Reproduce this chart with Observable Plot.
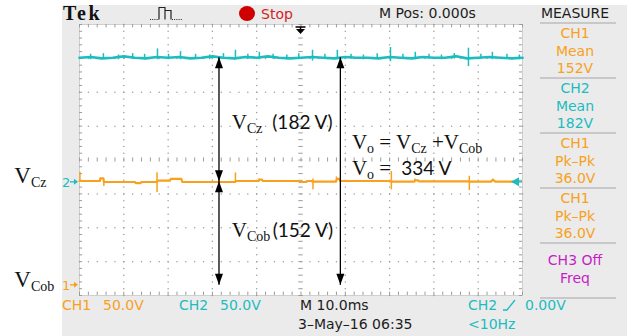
<!DOCTYPE html>
<html>
<head>
<meta charset="utf-8">
<script src="https://cdn.jsdelivr.net/npm/d3@7"></script>
<script src="https://cdn.jsdelivr.net/npm/@observablehq/plot@0.6"></script>
<style>
  html,body{margin:0;padding:0;background:#fff;}
  #wrap{position:relative;width:634px;height:336px;overflow:hidden;font-family:"DejaVu Sans",sans-serif;}
  #panel{position:absolute;left:62px;top:5px;width:565px;height:331px;background:#ebebeb;}
  .lbl{position:absolute;white-space:nowrap;font-size:14px;line-height:14px;color:#1c1c1c;}
  .sep{position:absolute;left:540px;width:76px;height:2px;background:#c8c8c8;}
</style>
</head>
<body>
<div id="wrap"><div id="panel"></div></div>
<script>
// ---------------- data ----------------
const timeDomain = [-50, 50];        // ms : M 10.0ms / div, M Pos 0.000s
const divDomain = [-4, 4];           // graticule divisions
const voltsPerDiv = 50;              // CH1 50.0V, CH2 50.0V
const ch1Position = -3.70;           // ground marker "1" (div)
const ch2Position = -0.66;           // ground marker "2" (div)

// CH2 (cyan, V_Cz) samples every 2.5 ms, volts
const ch2Times = d3.range(-50, 50.01, 2.5);
const ch2Volts = [184,185,183,184,186,184,183,185,184,185,
                  183,184,186,184,183,185,184,186,184,183,
                  184,185,184,183,185,184,184,183,185,184,
                  183,185,184,184,186,183,184,185,184,183,184];
// CH2 glitches: [time ms, low V, high V]
const ch2Spikes = [[-47.5,181,189],[-44.6,182,190],[-41.2,181,188],[-38.0,182,190],[-35.3,181,189],
  [-32.4,181,197],[-29.9,182,189],[-27.2,181,193],[-23.8,182,189],[-20.6,181,188],[-17.5,182,190],
  [-14.8,181,195],[-12.0,182,189],[-9.4,181,192],[-6.3,182,189],[-3.2,181,188],[-0.5,182,190],
  [2.6,179,195],[5.4,182,189],[8.2,181,195],[11.3,182,189],[14.1,181,188],[17.2,182,190],
  [20.2,178,199],[23.0,182,189],[25.8,181,192],[28.9,182,189],[31.7,181,188],[34.6,182,190],
  [37.8,171,198],[40.6,182,189],[43.2,181,192],[46.5,182,189],[49.3,181,188]];

// CH1 (orange, V_Cob) trace: [time ms, volts]
const ch1Path = [[-50,154],[-45.4,154],[-45.3,158],[-44.6,158],[-44.5,152.5],[-37.5,152.5],[-37.3,151],
  [-36.2,151],[-36.0,152.5],[-32.6,152.5],[-32.4,154.5],[-29.6,154.5],[-29.4,157],[-27.0,157],
  [-26.8,152.5],[-14.9,152.5],[-14.7,154],[-9.6,154],[-9.4,156],[-8.8,156],[-8.6,154],[-0.5,154],
  [-0.3,152.5],[1.2,152.5],[1.4,154],[2.4,154],[2.6,153],[7.9,153],[8.1,157],[8.7,157],[8.9,154],
  [20.0,154],[20.2,153],[25.6,153],[25.8,155],[26.4,155],[26.6,153.5],[37.7,153.5],[37.9,153],
  [42.9,153],[43.1,155],[43.6,155],[43.8,153],[48,153]];
// CH1 glitches: [time ms, low V, high V]
const ch1Spikes = [[-49.9,153,167],[-44.5,146,154],[-32.5,137,166],[-14.8,153,166],[-9.5,153,157],
  [2.7,141,157],[8.0,153,160],[20.4,141,168],[25.7,153,157],[38.0,140,161],[43.3,153,157]];

// annotation levels (volts)
const vCzLevel = 184, vCobLevel = 153, groundLevel = 0;
const arrowTimes = [-18.4, 9.0];

// annotation texts: [kind, text]  kind: "V" serif, "sub" serif subscript, "n" sans
const annotations = [
  {t: -15.5, y: 0.90,  parts: [["V","V"],["sub","Cz"],["n","  (182 V)"]]},
  {t: 11.6,  y: 0.30,  parts: [["V","V"],["sub","o"],["V"," = V"],["sub","Cz"],["V"," +V"],["sub","Cob"]]},
  {t: 11.6,  y: -0.45, parts: [["V","V"],["sub","o"],["V"," = "],["n"," 334 V"]]},
  {t: -15.5, y: -2.29, parts: [["V","V"],["sub","Cob"],["n","\u2009(152 V)"]]},
  {t: -64.6, y: -0.69, parts: [["V","V"],["sub","Cz"]]},
  {t: -64.6, y: -3.76, parts: [["V","V"],["sub","Cob"]]}
];

// scope read-outs
const measureRows = [["CH1","Mean","152V"],["CH2","Mean","182V"],["CH1","Pk\u2013Pk","36.0V"],["CH1","Pk\u2013Pk","36.0V"],["CH3 Off","Freq"]];
const measureKinds = ["ch1","ch2","ch1","ch1","ch3"];
const bottomLeft = [["CH1","50.0V","ch1"],["CH2","50.0V","ch2"]];
const timebase = "M 10.0ms", dateText = "3\u2013May\u201316 06:35", trigText = ["CH2","0.00V"], freqText = "<10Hz";

// ---------------- styles ----------------
const COL = {ch1: "#f8a11c", ch2: "#1cbcbf", ch3: "#c61ec6", ink: "#1c1c1c"};

// ---------------- chrome (HTML) ----------------
const wrap = document.getElementById("wrap");
function lbl(text, left, cy, color, extra) {
  const d = document.createElement("div");
  d.className = "lbl";
  d.textContent = text;
  d.style.left = left + "px";
  d.style.top = (cy - 7) + "px";
  if (color) d.style.color = color;
  if (extra) Object.assign(d.style, extra);
  wrap.appendChild(d);
  return d;
}

// ---------------- plot ----------------
const majorX = d3.range(-50, 50.01, 10), minorX = d3.range(-50, 50.01, 2);
const majorY = d3.range(-4, 4.01, 1), minorY = d3.range(-4, 4.01, 0.2);
const gridDots = [];
for (const gx of majorX) if (gx !== 0 && Math.abs(gx) !== 50) for (const gy of minorY) gridDots.push([gx, gy]);
for (const gy of majorY) if (gy !== 0 && Math.abs(gy) !== 4) for (const gx of minorX) gridDots.push([gx, gy]);

const ch1 = v => ch1Position + v / voltsPerDiv;
const ch2 = v => ch2Position + v / voltsPerDiv;

function overlay(index, scales) {
  const {x, y} = scales;
  const g = d3.create("svg:g").attr("text-anchor", "start");
  const tri = (px, py, dir, color) => {  // dir: 1 down, -1 up (tip at py)
    g.append("path")
      .attr("d", `M${px},${py}L${px - 4},${py - dir * 11}L${px + 4},${py - dir * 11}Z`)
      .attr("fill", color);
  };
  // arrows
  for (const [i, t] of arrowTimes.entries()) {
    const px = x(t), top = y(ch2(vCzLevel)), bot = y(ch1(groundLevel)), mid = y(ch1(vCobLevel));
    g.append("line").attr("x1", px).attr("x2", px).attr("y1", top).attr("y2", bot)
      .attr("stroke", "#000").attr("stroke-width", 1.3);
    tri(px, top, -1, "#000");
    tri(px, bot, 1, "#000");
    if (i === 0) { tri(px, mid, 1, "#000"); tri(px, mid, -1, "#000"); }
  }
  // trigger position marker (top)
  const tx = x(0), ty = y(4);
  g.append("path").attr("d", `M${tx - 5},${ty + 3}H${tx + 5}M${tx},${ty + 3}V${ty + 5}`).attr("stroke", "#000").attr("stroke-width", 1.5);
  g.append("path").attr("d", `M${tx - 4.5},${ty + 5}L${tx + 4.5},${ty + 5}L${tx},${ty + 10}Z`).attr("fill", "#000");
  // trigger level marker (right)
  const rx = x(50), ry = y(ch2(0));
  g.append("path").attr("d", `M${rx - 11},${ry}L${rx - 3},${ry - 4.5}L${rx - 3},${ry + 4.5}Z`).attr("fill", COL.ch2);
  g.append("line").attr("x1", rx - 4).attr("x2", rx).attr("y1", ry).attr("y2", ry).attr("stroke", COL.ch2).attr("stroke-width", 1.5);
  // channel ground markers (left)
  for (const [label, pos, color] of [["2", ch2Position, COL.ch2], ["1", ch1Position, COL.ch1]]) {
    const lx = x(-50), ly = y(pos);
    g.append("text").attr("x", lx - 17).attr("y", ly + 5).attr("fill", color)
      .attr("font-family", "DejaVu Sans").attr("font-size", 13).text(label);
    g.append("line").attr("x1", lx - 9).attr("x2", lx - 4).attr("y1", ly).attr("y2", ly).attr("stroke", color).attr("stroke-width", 1.3);
    g.append("path").attr("d", `M${lx - 1},${ly}L${lx - 5},${ly - 3}L${lx - 5},${ly + 3}Z`).attr("fill", color);
  }
  // annotation texts
  const fontOf = {V: ["Liberation Serif", 21], sub: ["Liberation Serif", 14], n: ["Lato", 19]};
  for (const a of annotations) {
    const big = a.t < -50;
    const txt = g.append("text").attr("x", x(a.t)).attr("y", y(a.y)).attr("fill", "#111")
      .attr("text-anchor", "start").style("white-space", "pre");
    let prevSub = false;
    for (const [kind, s] of a.parts) {
      const [fam, size] = fontOf[kind];
      const isSub = kind === "sub";
      const ts = txt.append("tspan").attr("font-family", fam).attr("font-size", big && kind === "V" ? 23 : size).text(s);
      if (isSub && !prevSub) ts.attr("dy", 4);
      if (!isSub && prevSub) ts.attr("dy", -4);
      prevSub = isSub;
    }
  }
  return g.node();
}

const svg = Plot.plot({
  width: 634, height: 336,
  marginLeft: 79, marginRight: 112, marginTop: 24, marginBottom: 41,
  x: {domain: timeDomain, axis: null},
  y: {domain: divDomain, axis: null},
  style: {background: "transparent", overflow: "visible", position: "absolute", left: "0px", top: "0px"},
  marks: [
    Plot.frame({fill: "#fff", stroke: "#cfcfcf"}),
    Plot.dot(gridDots, {x: d => d[0], y: d => d[1], r: 0.75, fill: "#9c9c9c", stroke: null}),
    Plot.ruleX(minorX, {y1: -0.06, y2: 0.06, stroke: "#9c9c9c", strokeWidth: 1}),
    Plot.ruleY(minorY, {x1: -0.5, x2: 0.5, stroke: "#9c9c9c", strokeWidth: 1}),
    Plot.ruleX(minorX, {y1: 4, y2: 3.9, stroke: "#9c9c9c"}),
    Plot.ruleX(minorX, {y1: -4, y2: -3.9, stroke: "#9c9c9c"}),
    Plot.ruleY(minorY, {x1: -50, x2: -49.3, stroke: "#9c9c9c"}),
    Plot.ruleY(minorY, {x1: 50, x2: 49.3, stroke: "#9c9c9c"}),
    // CH2 trace
    Plot.line(ch2Times.map((t, i) => ({t, v: ch2Volts[i]})), {x: "t", y: d => ch2(d.v), stroke: COL.ch2, strokeWidth: 2.6}),
    Plot.ruleX(ch2Spikes, {x: d => d[0], y1: d => ch2(d[1]), y2: d => ch2(d[2]), stroke: COL.ch2, strokeWidth: 1.5}),
    // CH1 trace
    Plot.line(ch1Path, {x: d => d[0], y: d => ch1(d[1]), stroke: COL.ch1, strokeWidth: 2.2}),
    Plot.ruleX(ch1Spikes, {x: d => d[0], y1: d => ch1(d[1]), y2: d => ch1(d[2]), stroke: COL.ch1, strokeWidth: 1.5}),
    overlay
  ]
});
wrap.appendChild(svg);

// header
lbl("Tek", 63, 14, "#111", {fontFamily: "Liberation Serif", fontWeight: "bold", fontSize: "20px", lineHeight: "20px", top: "3px", letterSpacing: "2.5px"});
const icon = document.createElementNS("http://www.w3.org/2000/svg", "svg");
icon.setAttribute("width", "40"); icon.setAttribute("height", "20");
Object.assign(icon.style, {position: "absolute", left: "148px", top: "3px"});
icon.innerHTML = '<path d="M2,16.5H11M24,16.5H34" stroke="#222" stroke-dasharray="1,1.2" fill="none"/>' +
  '<path d="M11,16.5V4.5H17V16.5M17,7.5H23V16.5" stroke="#222" stroke-width="1.2" fill="none"/>';
wrap.appendChild(icon);
const dot = document.createElement("div");
Object.assign(dot.style, {position: "absolute", left: "239px", top: "6px", width: "16px", height: "15px", borderRadius: "50%", background: "#cf0000"});
wrap.appendChild(dot);
lbl("Stop", 261, 14, "#d41f1f");
lbl("M Pos: 0.000s", 379, 13);
lbl("MEASURE", 537, 13, null, {width: "76px", textAlign: "center"});

// measure panel
const seps = [23, 78, 133, 188, 243, 298];
for (const s of seps) {
  const d = document.createElement("div");
  d.className = "sep"; d.style.top = (s - 1) + "px";
  wrap.appendChild(d);
}
measureRows.forEach((row, i) => {
  const color = COL[measureKinds[i]];
  const start = row.length === 3 ? seps[i] + 10 : seps[i] + 17;
  row.forEach((t, j) => lbl(t, 537, start + j * 17.5, color, {width: "76px", textAlign: "center"}));
});

// bottom readouts
lbl(bottomLeft[0][0], 62, 305, COL.ch1); lbl(bottomLeft[0][1], 103, 305, COL.ch1);
lbl(bottomLeft[1][0], 179, 305, COL.ch2); lbl(bottomLeft[1][1], 220, 305, COL.ch2);
lbl(timebase, 300, 305);
lbl(dateText, 298, 324);
lbl(trigText[0], 468, 305, COL.ch2);
const slope = document.createElementNS("http://www.w3.org/2000/svg", "svg");
slope.setAttribute("width", "18"); slope.setAttribute("height", "16");
Object.assign(slope.style, {position: "absolute", left: "501px", top: "297px"});
slope.innerHTML = '<path d="M2,13H6L14,3" stroke="' + COL.ch2 + '" stroke-width="1.4" fill="none"/>';
wrap.appendChild(slope);
lbl(trigText[1], 525, 305, COL.ch2);
lbl(freqText, 468, 324, COL.ch2);
</script>
</body>
</html>
